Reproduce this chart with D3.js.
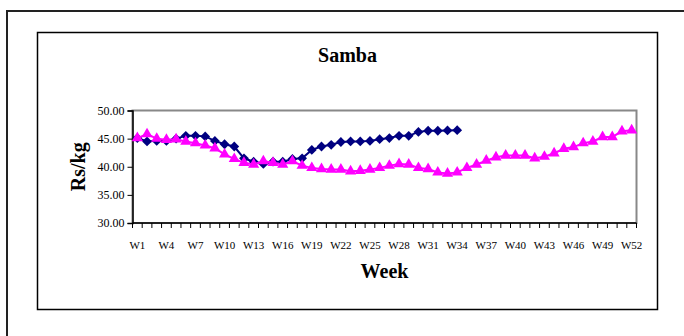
<!DOCTYPE html>
<html>
<head>
<meta charset="utf-8">
<script src="https://cdn.jsdelivr.net/npm/d3@7"></script>
<style>
  html, body { margin: 0; padding: 0; background: #fff; }
  svg { display: block; }
  text { font-family: "Liberation Serif", "Times New Roman", serif; fill: #000; }
</style>
</head>
<body>
<div id="chart"></div>
<script>
// Weekly Samba prices (Rs/kg)
const weeks = d3.range(1, 53).map(i => "W" + i);

// current season, W1–W34
const seriesA = [
  45.1, 44.5, 44.6, 44.6, 45.0, 45.5, 45.5, 45.4, 44.6, 44.0,
  43.6, 41.5, 40.9, 40.5, 40.9, 40.9, 41.4, 41.5, 43.0, 43.6,
  43.9, 44.4, 44.5, 44.5, 44.6, 44.9, 45.1, 45.5, 45.5, 46.2,
  46.4, 46.4, 46.45, 46.5
];

// previous season, W1–W52
const seriesB = [
  45.1, 45.8, 45.0, 44.8, 44.9, 44.5, 44.2, 43.8, 43.3, 42.2,
  41.4, 40.7, 40.4, 41.0, 40.7, 40.4, 41.0, 40.2, 39.8, 39.6,
  39.5, 39.5, 39.2, 39.3, 39.5, 39.8, 40.2, 40.5, 40.4, 39.8,
  39.6, 39.0, 38.8, 39.0, 39.8, 40.4, 41.1, 41.7, 42.0, 42.0,
  42.0, 41.5, 41.8, 42.4, 43.2, 43.5, 44.2, 44.5, 45.3, 45.3,
  46.3, 46.5
];

const yTicks = [30, 35, 40, 45, 50];
const xTickLabels = weeks.filter((d, i) => i % 3 === 0);

const W = 684, H = 336;
const svg = d3.select("#chart").append("svg")
  .attr("width", W).attr("height", H);

// outer page frame
svg.append("rect")
  .attr("x", 7).attr("y", 11).attr("width", 720).attr("height", 360)
  .attr("fill", "none").attr("stroke", "#222").attr("stroke-width", 2);

// chart frame
svg.append("rect")
  .attr("x", 37.5).attr("y", 32.5).attr("width", 620).attr("height", 277)
  .attr("fill", "#fff").attr("stroke", "#000").attr("stroke-width", 1.5);

const plot = { left: 132.5, right: 636.5, top: 110.5, bottom: 223 };

const x = d3.scaleBand().domain(weeks).range([plot.left, plot.right]).padding(0);
const y = d3.scaleLinear().domain([30, 50]).range([plot.bottom, plot.top]);

// plot area border (grey top/right)
svg.append("rect")
  .attr("x", plot.left).attr("y", plot.top)
  .attr("width", plot.right - plot.left).attr("height", plot.bottom - plot.top)
  .attr("fill", "#fff").attr("stroke", "#888").attr("stroke-width", 2);

// y axis
const yAxis = d3.axisLeft(y).tickValues(yTicks).tickFormat(d3.format(".2f")).tickSize(5).tickPadding(3);
const gy = svg.append("g").attr("transform", `translate(${plot.left},0)`).call(yAxis);
gy.select(".domain").attr("stroke", "#000").attr("stroke-width", 1.5);
gy.selectAll(".tick line").attr("stroke", "#000");
gy.selectAll("text").attr("font-size", 12).style("font-family", "Liberation Serif, serif");

// x axis: ticks on category boundaries, labels every third week
const gx = svg.append("g").attr("transform", `translate(0,${plot.bottom})`);
gx.append("line")
  .attr("x1", plot.left).attr("x2", plot.right)
  .attr("stroke", "#000").attr("stroke-width", 1.5);
gx.selectAll("line.tk")
  .data(weeks.concat(["end"]))
  .join("line").attr("class", "tk")
  .attr("x1", (d, i) => plot.left + i * x.bandwidth())
  .attr("x2", (d, i) => plot.left + i * x.bandwidth())
  .attr("y1", 0).attr("y2", 5)
  .attr("stroke", "#000");
gx.selectAll("text")
  .data(xTickLabels)
  .join("text")
  .attr("x", d => x(d) + x.bandwidth() / 2)
  .attr("y", 26)
  .attr("text-anchor", "middle")
  .attr("font-size", 11)
  .text(d => d);

// series lines and markers
const line = d3.line()
  .x((d, i) => x(weeks[i]) + x.bandwidth() / 2)
  .y(d => y(d));

function drawSeries(data, color, symbol, size, rotate) {
  const g = svg.append("g");
  g.append("path").datum(data)
    .attr("d", line)
    .attr("fill", "none").attr("stroke", color).attr("stroke-width", 2);
  g.selectAll("path.m").data(data).join("path").attr("class", "m")
    .attr("d", d3.symbol().type(symbol).size(size))
    .attr("transform", (d, i) =>
      `translate(${x(weeks[i]) + x.bandwidth() / 2},${y(d)}) rotate(${rotate})`)
    .attr("fill", color);
}

drawSeries(seriesA, "#000080", d3.symbolSquare, 48, 45);
drawSeries(seriesB, "#FF00FF", d3.symbolTriangle, 54, 0);

// titles
svg.append("text")
  .attr("x", 347.5).attr("y", 62)
  .attr("text-anchor", "middle")
  .attr("font-size", 20).attr("font-weight", "bold")
  .text("Samba");

svg.append("text")
  .attr("x", (plot.left + plot.right) / 2).attr("y", 278)
  .attr("text-anchor", "middle")
  .attr("font-size", 20).attr("font-weight", "bold")
  .text("Week");

svg.append("text")
  .attr("transform", `translate(85,${(plot.top + plot.bottom) / 2}) rotate(-90)`)
  .attr("text-anchor", "middle")
  .attr("font-size", 20).attr("font-weight", "bold")
  .text("Rs/kg");
</script>
</body>
</html>
